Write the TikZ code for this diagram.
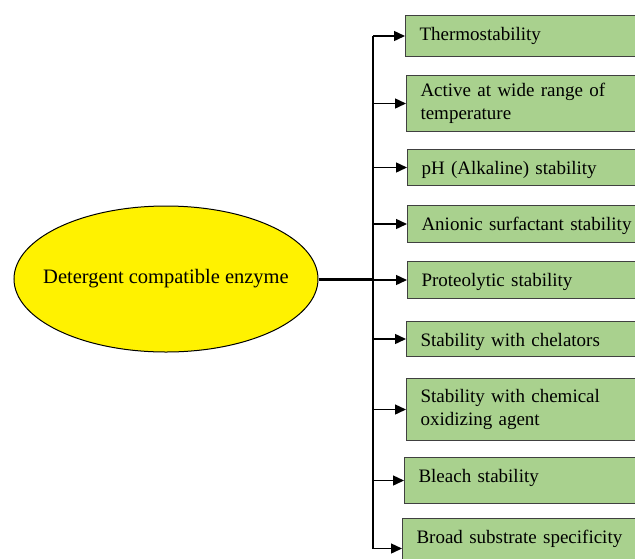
\documentclass[tikz,border=0pt]{standalone}
\usepackage{fontspec}
\setmainfont{Liberation Serif}
\usetikzlibrary{arrows.meta,shapes.geometric}

\definecolor{verdecaja}{HTML}{A9D18E}
\definecolor{bordecaja}{HTML}{404040}

\begin{document}
\begin{tikzpicture}[
        x=1pt, y=-1pt,
        enzima/.style={draw, ellipse, fill=yellow, line width=1pt, inner xsep=-40pt, inner ysep=0pt,
            minimum width=304pt, minimum height=146pt, font=\fontsize{20.5}{24}\selectfont},
        rasgo/.style={draw=bordecaja, fill=verdecaja, line width=1pt, anchor=north west,
            inner xsep=14pt, inner ysep=0pt, text width=220pt, align=left,
            font=\fontsize{19}{23.5}\selectfont},
        una/.style={text height=24.5pt, text depth=#1},
        dos/.style={minimum height=#1},
        flecha/.style={-{Triangle[length=11pt, width=10pt]}, line width=1.4pt},
        tronco/.style={line width=2.4pt},
        enlace/.style={line width=3pt}
    ]
        \clip (0,0) rectangle (635,558);

        \node[enzima] (enz) at (166,279) {Detergent compatible enzyme};

        \node[rasgo, una=16.5pt] (r1) at (405,15) {Thermostability};
        \node[rasgo, dos=56pt] (r2) at (406,75) {Active at wide range of\\temperature};
        \node[rasgo, una=11.5pt] (r3) at (407,149) {pH (Alkaline) stability};
        \node[rasgo, una=12.5pt] (r4) at (407,205) {Anionic surfactant stability};
        \node[rasgo, una=12.5pt] (r5) at (407,261) {Proteolytic stability};
        \node[rasgo, una=10.5pt] (r6) at (406,321) {Stability with chelators};
        \node[rasgo, dos=62pt] (r7) at (406,378) {Stability with chemical\\oxidizing agent};
        \node[rasgo, una=21.5pt] (r8) at (404,457) {Bleach stability};
        \node[rasgo, una=35.5pt] (r9) at (402,518) {Broad substrate specificity};

        \coordinate (eje) at (373,0);

        \draw[tronco] (eje |- r1.west) -- (eje |- r9.west);
        \draw[enlace] (enz.east) -- (eje |- enz.east);
        \foreach \i in {1,...,9}
            \draw[flecha] (eje |- r\i.west) -- (r\i.west);
    \end{tikzpicture}
\end{document}
